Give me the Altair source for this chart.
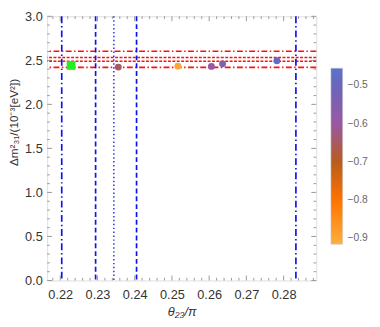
import altair as alt
import pandas as pd
import numpy as np

# ---- data ----
best_theta = [0.2229]
best_dm = [2.442]

pt_theta = [0.2356, 0.2516, 0.2606, 0.2636, 0.2782]
pt_dm = [2.423, 2.434, 2.431, 2.460, 2.496]
pt_phase = [-0.65, -0.90, -0.60, -0.56, -0.49]

v_dashdot = [0.2204, 0.2833]
v_dashed = [0.2295, 0.2405]
v_dotted = [0.2344]

h_dashdot = [2.603, 2.420]
h_dashed = [2.532, 2.489]

x_major = [0.22, 0.23, 0.24, 0.25, 0.26, 0.27, 0.28]
y_major = [0.0, 0.5, 1.0, 1.5, 2.0, 2.5, 3.0]
x_minor = [round(v, 3) for v in np.arange(0.218, 0.2881, 0.002) if round(v, 3) not in x_major]
y_minor = [round(v, 1) for v in np.arange(0.0, 3.01, 0.1) if round(v, 1) not in y_major]

cbar_values = [-0.9, -0.8, -0.7, -0.6, -0.5]

W, H = 275, 270
XD = [0.21648, 0.28876]
YD = [0, 3]

xs = alt.Scale(domain=XD, nice=False, zero=False)
ys = alt.Scale(domain=YD, nice=False, zero=False)

FONT = "Liberation Sans"

xaxis = alt.Axis(values=x_major, format=".2f", labelFontSize=13, labelColor="#333",
                 tickSize=0, domain=False, grid=False, labelPadding=8,
                 title="θ₂₃/π", titleFontSize=13, titleColor="#333", titleFont=FONT,
                 titleFontWeight="normal", titleFontStyle="italic",
                 titleY=36, titleBaseline="alphabetic", labelFont=FONT)
yaxis = alt.Axis(values=y_major, format=".1f", labelFontSize=13, labelColor="#333",
                 tickSize=0, domain=False, grid=False, labelPadding=5,
                 title="Δm²₃₁/(10⁻³[eV²])", titleFontSize=12, titleColor="#333",
                 titleFont=FONT, titleFontWeight="normal",
                 titleX=-30, titleY=108, titleAngle=270, titleBaseline="alphabetic",
                 titleAlign="center", titleAnchor="start",
                 labelFont=FONT)

def X(field):
    return alt.X(field, scale=xs, axis=xaxis)

def Y(field):
    return alt.Y(field, scale=ys, axis=yaxis)

base_df = pd.DataFrame({"x": best_theta, "y": best_dm})

BLUE = "#0a14f0"
RED = "#ff1010"

def vlines(vals, dash, width):
    return alt.Chart(pd.DataFrame({"v": vals})).mark_rule(
        color=BLUE, strokeWidth=width, strokeDash=dash).encode(x=X("v:Q"))

def hlines(vals, dash, width):
    return alt.Chart(pd.DataFrame({"v": vals})).mark_rule(
        color=RED, strokeWidth=width, strokeDash=dash).encode(y=Y("v:Q"))

TICKC = "#999999"

def xticks(vals, length):
    df = pd.DataFrame({"v": vals})
    b = alt.Chart(df).mark_rule(color=TICKC, strokeWidth=1).encode(
        x=X("v:Q"), y=alt.value(H), y2=alt.value(H - length))
    t = alt.Chart(df).mark_rule(color=TICKC, strokeWidth=1).encode(
        x=X("v:Q"), y=alt.value(0), y2=alt.value(length))
    return b + t

def yticks(vals, length):
    df = pd.DataFrame({"v": vals})
    l = alt.Chart(df).mark_rule(color=TICKC, strokeWidth=1).encode(
        y=Y("v:Q"), x=alt.value(0), x2=alt.value(length))
    r = alt.Chart(df).mark_rule(color=TICKC, strokeWidth=1).encode(
        y=Y("v:Q"), x=alt.value(W), x2=alt.value(W - length))
    return l + r

pts_df = pd.DataFrame({"x": pt_theta, "y": pt_dm, "c": pt_phase})
points = alt.Chart(pts_df).mark_circle(size=50, opacity=1).encode(
    x=X("x:Q"),
    y=Y("y:Q"),
    color=alt.Color("c:Q",
                    scale=alt.Scale(domain=[-0.915, -0.8, -0.7, -0.6, -0.5, -0.455],
                                    range=["#fbb040", "#ff7300", "#b85c1c", "#9858a4",
                                           "#6a66bc", "#5a72cc"],
                                    interpolate="rgb"),
                    legend=alt.Legend(title=None, orient="none", legendX=290, legendY=53,
                                      direction="vertical", gradientLength=180,
                                      gradientThickness=12, values=cbar_values,
                                      format=".1f", labelFontSize=10.5, labelColor="#666",
                                      labelFont=FONT, labelOffset=5,
                                      gradientStrokeColor="#cccccc",
                                      gradientStrokeWidth=0.5)),
)

best = alt.Chart(base_df).mark_square(size=80, color="#22ee22", opacity=1).encode(
    x=X("x:Q"), y=Y("y:Q"),
)

chart = alt.layer(
    xticks(x_minor, 2.7), xticks(x_major, 5),
    yticks(y_minor, 2.7), yticks(y_major, 5),
    hlines(h_dashdot, [6, 2.5, 1.5, 2.5], 1.6),
    hlines(h_dashed, [3, 1.5], 1.6),
    vlines(v_dashdot, [7, 3, 1.5, 3], 1.7),
    vlines(v_dashed, [5, 3], 1.7),
    vlines(v_dotted, [1.5, 2.5], 1.3),
    best,
    points,
).properties(
    width=W, height=H,
    padding={"left": 40, "top": 5, "right": 57, "bottom": 42},
    autosize=alt.AutoSizeParams(type="none"),
).configure_view(stroke="#999999", strokeWidth=1).configure(font=FONT)

chart.save("out.html", embed_options={"renderer": "svg", "actions": False})
